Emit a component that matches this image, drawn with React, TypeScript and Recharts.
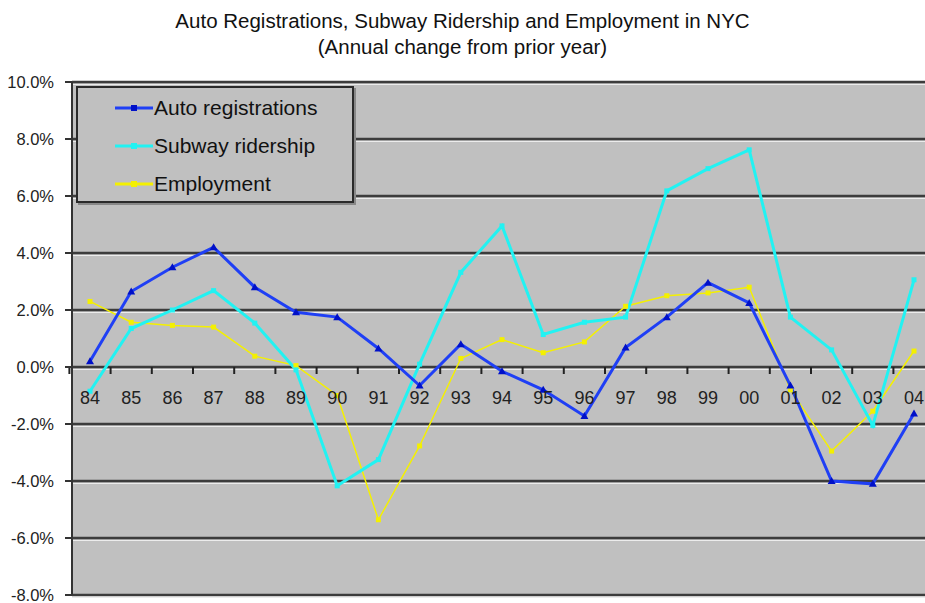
import { LineChart, Line, XAxis, YAxis, CartesianGrid } from "recharts";

const years = ["84", "85", "86", "87", "88", "89", "90", "91", "92", "93", "94", "95", "96", "97", "98", "99", "00", "01", "02", "03", "04"];
const autoRegistrations = [0.2, 2.65, 3.5, 4.2, 2.8, 1.92, 1.75, 0.65, -0.65, 0.8, -0.15, -0.8, -1.72, 0.68, 1.75, 2.96, 2.25, -0.65, -4.0, -4.1, -1.63];
const subwayRidership = [-0.85, 1.35, 2.0, 2.68, 1.54, -0.1, -4.17, -3.25, 0.1, 3.32, 4.95, 1.14, 1.57, 1.75, 6.18, 6.96, 7.62, 1.75, 0.6, -2.05, 3.06];
const employment = [2.3, 1.57, 1.46, 1.4, 0.38, 0.05, -1.0, -5.36, -2.77, 0.3, 0.96, 0.5, 0.88, 2.13, 2.5, 2.6, 2.8, -0.8, -2.95, -1.55, 0.56];
const yTicks = [-8, -6, -4, -2, 0, 2, 4, 6, 8, 10];
const seriesNames = ["Auto registrations", "Subway ridership", "Employment"];

const data = years.map((year, i) => ({
  year,
  auto: autoRegistrations[i],
  subway: subwayRidership[i],
  employment: employment[i],
}));

const W = 925;
const H = 603;
const TOP = 82;
const BOTTOM = 7;
const X_AXIS_H = 1;
const Y_MIN = -8;
const Y_MAX = 10;
const PLOT_H = H - TOP - BOTTOM - X_AXIS_H;
const ZERO_Y = TOP + (PLOT_H * Y_MAX) / (Y_MAX - Y_MIN);
const PAD_L = 18;
const PAD_R = 11;

const FONT = "'Liberation Sans', Arial, sans-serif";
const BLUE = "#1f3ff5";
const CYAN = "#22f2f2";
const YELLOW = "#f4f000";

// year labels sit under the 0% line, like Excel's category axis crossing at zero
function YearTick(props: any) {
  const { x, payload } = props;
  return (
    <text x={x} y={ZERO_Y + 37} textAnchor="middle" fontSize={18} fontFamily={FONT} fill="#222">
      {payload.value}
    </text>
  );
}

// tick marks between the years, on the zero line
function boundaryTicks({ offset }: any) {
  const left = offset.left + PAD_L;
  const step = (offset.width - PAD_L - PAD_R) / (years.length - 1);
  return [...years.map((_, i) => left + i * step - step / 2), left + (years.length - 1) * step + step / 2];
}

function Triangle(props: any) {
  const { cx, cy } = props;
  if (cx == null || cy == null) return null;
  return <polygon points={`${cx},${cy - 4} ${cx - 4},${cy + 3} ${cx + 4},${cy + 3}`} fill="#0010c8" />;
}

function Square(color: string, s: number) {
  return (props: any) => {
    const { cx, cy } = props;
    if (cx == null || cy == null) return null;
    return <rect x={cx - s / 2} y={cy - s / 2} width={s} height={s} fill={color} />;
  };
}

function GridLine(props: any) {
  const { x1, x2, y1, y2 } = props;
  return (
    <g>
      <line x1={x1} x2={x2} y1={y1} y2={y2} stroke="#3c3c3c" strokeWidth={2.5} />
      <line x1={x1} x2={x2} y1={y1 + 2.5} y2={y2 + 2.5} stroke="#ececec" strokeWidth={1} />
    </g>
  );
}

const legendSwatches = [
  { color: BLUE, marker: "#0010c8" },
  { color: CYAN, marker: CYAN },
  { color: YELLOW, marker: YELLOW },
];

export default function App() {
  return (
    <div style={{ position: "relative", width: W, height: H, background: "#fff", fontFamily: FONT }}>
      <style>{`body{margin:0}`}</style>
      <div style={{ position: "absolute", top: 8, left: 0, width: W, textAlign: "center", fontSize: 20.5, lineHeight: "26px", color: "#111" }}>
        Auto Registrations, Subway Ridership and Employment in NYC
        <br />
        (Annual change from prior year)
      </div>
      <LineChart width={W} height={H} data={data} margin={{ top: TOP, right: 0, bottom: BOTTOM, left: 0 }}>
        <CartesianGrid
          fill="#c0c0c0"
          horizontal={(p: any) => <GridLine key={`g${p.index}`} {...p} />}
          verticalCoordinatesGenerator={boundaryTicks}
          vertical={(p: any) => (
            <line key={`v${p.index}`} x1={p.x1} x2={p.x1} y1={ZERO_Y} y2={ZERO_Y + 7} stroke="#222" strokeWidth={2} />
          )}
        />
        <XAxis dataKey="year" height={X_AXIS_H} axisLine={false} tickLine={false} tick={(p: any) => <YearTick key={`t${p.index}`} {...p} />} interval={0} padding={{ left: PAD_L, right: PAD_R }} />
        <YAxis
          domain={[Y_MIN, Y_MAX]}
          ticks={yTicks}
          width={72}
          tickFormatter={(v: number) => `${v.toFixed(1)}%`}
          tick={{ fontSize: 16.5, fill: "#222", fontFamily: FONT }}
          axisLine={{ stroke: "#333", strokeWidth: 2 }}
          tickLine={{ stroke: "#333", strokeWidth: 2 }}
          tickSize={7}
          tickMargin={11}
          interval={0}
        />
        <Line dataKey="employment" stroke={YELLOW} strokeWidth={1.5} dot={Square(YELLOW, 5)} isAnimationActive={false} />
        <Line dataKey="subway" stroke={CYAN} strokeWidth={3} dot={Square(CYAN, 5)} isAnimationActive={false} />
        <Line dataKey="auto" stroke={BLUE} strokeWidth={3} dot={<Triangle />} isAnimationActive={false} />
      </LineChart>
      <div
        style={{
          position: "absolute",
          left: 76,
          top: 86,
          width: 278,
          height: 117,
          background: "#c0c0c0",
          border: "2px solid #2a2a2a",
          boxShadow: "2px 2px 0 #888",
          boxSizing: "border-box",
          paddingTop: 1,
        }}
      >
        {seriesNames.map((name, i) => (
          <div key={name} style={{ display: "flex", alignItems: "center", height: 38, paddingLeft: 37, fontSize: 21, color: "#111" }}>
            <svg width={38} height={10} style={{ marginRight: 1 }}>
              <line x1={0} x2={38} y1={5} y2={5} stroke={legendSwatches[i].color} strokeWidth={3} />
              <rect x={16} y={2} width={6} height={6} fill={legendSwatches[i].marker} />
            </svg>
            {name}
          </div>
        ))}
      </div>
    </div>
  );
}
